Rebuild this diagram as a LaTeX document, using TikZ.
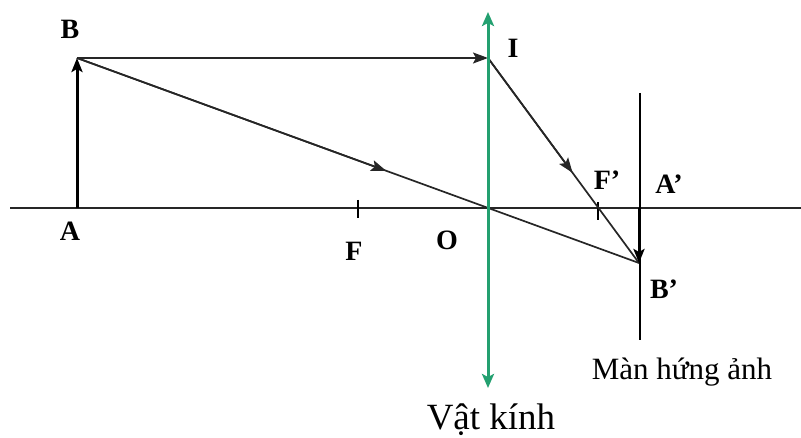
\documentclass[tikz,border=0pt]{standalone}
\usepackage{fontspec}
\setmainfont{Liberation Serif}
\usetikzlibrary{positioning, calc, arrows.meta}
\definecolor{LensGreen}{HTML}{23A070}
\definecolor{RayGray}{HTML}{262626}

\begin{document}
\begin{tikzpicture}[
    x=1pt, y=-1pt,
    font=\bfseries\fontsize{28}{30}\selectfont,
    axisline/.style={line width=2pt, RayGray},
    ray/.style={line width=1.7pt, RayGray},
    raytip/.style={ray, -{Stealth[length=15pt, width=11pt, inset=3pt]}},
    objarrow/.style={-{Stealth[length=14pt, width=11pt, inset=3pt]}, line width=3pt, black},
    lens/.style={{Stealth[length=14pt, width=12pt, inset=3pt]}-{Stealth[length=14pt, width=12pt, inset=3pt]}, line width=3pt, LensGreen},
    screen/.style={line width=1.7pt, black},
    focustick/.style={line width=1.7pt, black},
    ptlabel/.style={inner sep=0pt},
    textlabel/.style={inner sep=0pt, anchor=base}
  ]
    \useasboundingbox (0,0) rectangle (801,438);

    % Points
    \coordinate (AxL) at (10,208);
    \coordinate (AxR) at (801,208);
    \coordinate (A) at (77,208);
    \coordinate (B) at (77,58);
    \coordinate (O) at (488,208);
    \coordinate (I) at (488,58);
    \coordinate (F) at (358,208);
    \coordinate (Fp) at (598,208);
    \coordinate (Ap) at (639,208);
    \coordinate (Bp) at (639,263);
    \coordinate (LensTop) at (488,12);
    \coordinate (LensBot) at (488,388);
    \coordinate (ScrTop) at (640,93);
    \coordinate (ScrBot) at (640,340);

    % Axis and focus ticks
    \draw [axisline] (AxL) -- (AxR);
    \draw [focustick] ($(F)+(0,-8)$) -- ($(F)+(0,10)$);
    \draw [focustick] ($(Fp)+(0,-6)$) -- ($(Fp)+(0,12)$);

    % Rays
    \draw [raytip] (B) -- (I);
    \draw [ray] (B) -- (Bp);
    \draw [raytip] (B) -- ($(B)!0.55!(Bp)$);
    \draw [ray] (I) -- (Bp);
    \draw [raytip] (I) -- ($(I)!0.56!(Bp)$);

    % Object and image
    \draw [objarrow] (A) -- (B);
    \draw [objarrow] (Ap) -- (Bp);

    % Lens and screen
    \draw [lens] (LensBot) -- (LensTop);
    \draw [screen] (ScrTop) -- (ScrBot);

    % Labels
    \node (labB) [ptlabel] at (70,29) {B};
    \node (labA) [ptlabel] at (70,231) {A};
    \node (labF) [ptlabel] at (354,251) {F};
    \node (labO) [ptlabel] at (447,240) {O};
    \node (labI) [ptlabel] at (513,48) {I};
    \node (labFp) [ptlabel] at (607,180) {F’};
    \node (labAp) [ptlabel] at (669,184) {A’};
    \node (labBp) [ptlabel] at (664,289) {B’};
    \node (labScreen) [textlabel, font=\fontsize{31}{34}\selectfont] at (682,380) {Màn hứng ảnh};
    \node (labLens) [textlabel, font=\fontsize{37}{40}\selectfont] at (491,429) {Vật kính};
  \end{tikzpicture}
\end{document}
